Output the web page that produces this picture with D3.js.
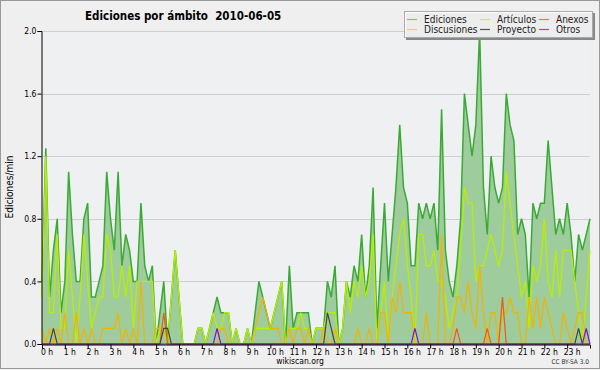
<!DOCTYPE html>
<html>
<head>
<meta charset="utf-8">
<script src="https://cdn.jsdelivr.net/npm/d3@7"></script>
<style>
  body { margin: 0; background: #efefef; }
  svg { display: block; }
</style>
</head>
<body>
<script>
// one value every 10 minutes, 00:00 .. 24:00 (145 slots)
const ediciones = [
  0.4, 1.25, 0.3, 0.6, 0.8, 0.2,
  0.4, 1.1, 0.7, 0.4, 0.4, 0.8,
  0.9, 0.3, 0.3, 0.4, 0.5, 1.1,
  0.8, 0.6, 1.1, 0.5, 0.7, 0.6,
  0.4, 0.4, 0.9, 0.5, 0.4, 0.5,
  0.0, 0.2, 0.4, 0.0, 0.3, 0.6,
  0.3, 0.0, 0.0, 0.0, 0.0, 0.1,
  0.1, 0.0, 0.1, 0.2, 0.3, 0.2,
  0.2, 0.2, 0.0, 0.1, 0.0, 0.0,
  0.1, 0.0, 0.2, 0.4, 0.3, 0.2,
  0.1, 0.2, 0.3, 0.4, 0.0, 0.5,
  0.1, 0.2, 0.2, 0.2, 0.2, 0.0,
  0.1, 0.1, 0.1, 0.4, 0.3, 0.5,
  0.0, 0.1, 0.4, 0.3, 0.5, 0.4,
  0.7, 0.3, 0.5, 1.0, 0.1, 0.5,
  0.9, 0.4, 0.7, 1.0, 1.4, 1.0,
  0.9, 0.5, 0.5, 0.9, 0.8, 0.9,
  0.8, 0.9, 0.6, 1.5, 0.6, 0.4,
  0.3, 0.5, 0.8, 1.6, 1.4, 1.2,
  1.4, 2.0, 1.0, 0.7, 1.2, 1.0,
  0.9, 1.0, 1.6, 1.4, 1.3, 0.7,
  0.8, 0.7, 0.3, 0.9, 0.8, 0.9,
  0.9, 1.3, 1.0, 0.7, 0.8, 0.7,
  0.9, 0.7, 0.4, 0.7, 0.6, 0.7,
  0.8
]
const articulos = [
  0.3, 1.2, 0.2, 0.2, 0.7, 0.1,
  0.1, 0.6, 0.3, 0.0, 0.3, 0.7,
  0.4, 0.1, 0.2, 0.3, 0.3, 0.7,
  0.6, 0.3, 0.3, 0.5, 0.3, 0.5,
  0.1, 0.4, 0.4, 0.4, 0.4, 0.4,
  0.0, 0.1, 0.1, 0.0, 0.3, 0.6,
  0.3, 0.0, 0.0, 0.0, 0.0, 0.1,
  0.1, 0.0, 0.1, 0.2, 0.1, 0.1,
  0.2, 0.2, 0.0, 0.1, 0.0, 0.0,
  0.1, 0.0, 0.1, 0.1, 0.1, 0.1,
  0.1, 0.2, 0.3, 0.4, 0.0, 0.1,
  0.1, 0.1, 0.2, 0.1, 0.1, 0.0,
  0.1, 0.1, 0.1, 0.2, 0.2, 0.2,
  0.0, 0.1, 0.4, 0.2, 0.4, 0.3,
  0.5, 0.3, 0.4, 0.7, 0.0, 0.2,
  0.4, 0.0, 0.3, 0.5, 0.7, 0.8,
  0.5, 0.3, 0.0, 0.7, 0.7, 0.5,
  0.5, 0.6, 0.4, 0.4, 0.3, 0.1,
  0.2, 0.3, 0.6, 1.0, 0.9, 0.9,
  0.4, 0.5, 0.5, 0.6, 0.7, 0.6,
  0.5, 0.6, 1.1, 0.9, 0.7, 0.5,
  0.3, 0.4, 0.1, 0.5, 0.4, 0.5,
  0.8, 0.4, 0.3, 0.6, 0.3, 0.6,
  0.6, 0.6, 0.4, 0.2, 0.0, 0.3,
  0.6
]
const discusiones = [
  0.1, 0.0, 0.1, 0.0, 0.1, 0.0,
  0.2, 0.0, 0.0, 0.2, 0.0, 0.1,
  0.0, 0.1, 0.0, 0.0, 0.1, 0.1,
  0.1, 0.1, 0.2, 0.0, 0.1, 0.0,
  0.1, 0.0, 0.4, 0.0, 0.0, 0.0,
  0.1, 0.1, 0.1, 0.0, 0.0, 0.0,
  0.0, 0.0, 0.0, 0.0, 0.0, 0.0,
  0.0, 0.0, 0.0, 0.0, 0.0, 0.1,
  0.1, 0.0, 0.0, 0.0, 0.0, 0.0,
  0.0, 0.0, 0.1, 0.2, 0.3, 0.2,
  0.1, 0.1, 0.1, 0.0, 0.0, 0.1,
  0.0, 0.1, 0.1, 0.0, 0.1, 0.0,
  0.0, 0.0, 0.1, 0.0, 0.0, 0.1,
  0.0, 0.0, 0.0, 0.0, 0.0, 0.1,
  0.0, 0.0, 0.1, 0.0, 0.0, 0.2,
  0.2, 0.0, 0.3, 0.2, 0.4, 0.2,
  0.2, 0.2, 0.0, 0.0, 0.0, 0.2,
  0.0, 0.0, 0.0, 0.7, 0.0, 0.0,
  0.1, 0.3, 0.3, 0.2, 0.4, 0.2,
  0.1, 0.5, 0.2, 0.0, 0.2, 0.2,
  0.0, 0.2, 0.2, 0.3, 0.2, 0.2,
  0.0, 0.0, 0.3, 0.1, 0.3, 0.1,
  0.3, 0.2, 0.1, 0.0, 0.0, 0.2,
  0.1, 0.0, 0.1, 0.2, 0.2, 0.0,
  0.0
]
// sparse series: only the non-zero slots
const anexos = [{slot: 32, v: 0.2}, {slot: 109, v: 0.1}, {slot: 117, v: 0.1}, {slot: 121, v: 0.3}]
const proyecto = [{slot: 3, v: 0.1}, {slot: 32, v: 0.1}, {slot: 33, v: 0.1}, {slot: 75, v: 0.2}, {slot: 76, v: 0.1}, {slot: 141, v: 0.1}]
const otros = [{slot: 46, v: 0.1}, {slot: 98, v: 0.1}, {slot: 143, v: 0.1}]

const yTicks = [0, 0.4, 0.8, 1.2, 1.6, 2.0]
const hourLabels = d3.range(0, 24).map(h => h + ' h')

const legendItems = [
  {name: 'Ediciones', color: '#77cc77'},
  {name: 'Artículos', color: '#ccee44'},
  {name: 'Anexos', color: '#ee7744'},
  {name: 'Discusiones', color: '#f5d04a'},
  {name: 'Proyecto', color: '#555555'},
  {name: 'Otros', color: '#9944ee'}
]

const W = 600, H = 370
const plot = {left: 42, right: 590, top: 31, bottom: 344}

const svg = d3.select('body').append('svg')
  .attr('width', W)
  .attr('height', H)
  .style('font-family', '"DejaVu Sans Condensed", "DejaVu Sans", sans-serif')

svg.append('rect')
  .attr('x', 0.5).attr('y', 0.5)
  .attr('width', W - 1).attr('height', H - 2)
  .attr('fill', '#efefef')
  .attr('stroke', '#9a9a9a')

svg.append('rect')
  .attr('x', plot.left).attr('y', plot.top)
  .attr('width', plot.right - plot.left).attr('height', plot.bottom - plot.top)
  .attr('fill', '#eef0f2')

const scaleX = d3.scaleLinear().domain([0, 1440]).range([plot.left, plot.right])
const scaleY = d3.scaleLinear().domain([0, 2]).range([plot.bottom, plot.top])

// grid
svg.append('g')
  .selectAll('line')
  .data(yTicks.filter(d => d > 0))
  .enter()
  .append('line')
  .attr('x1', plot.left).attr('x2', plot.right)
  .attr('y1', d => Math.round(scaleY(d)) + 0.5)
  .attr('y2', d => Math.round(scaleY(d)) + 0.5)
  .attr('stroke', '#cfcfcf')

const toPoints = arr => arr.map((v, i) => ({t: i * 10, v: v}))
const sparse = arr => ediciones.map((_, i) => {
  const hit = arr.find(d => d.slot === i)
  return {t: i * 10, v: hit ? hit.v : 0}
})

const line = d3.line().x(d => scaleX(d.t)).y(d => scaleY(d.v))
const area = d3.area().x(d => scaleX(d.t)).y0(scaleY(0)).y1(d => scaleY(d.v))

const visG = svg.append('g')

visG.append('path')
  .datum(toPoints(ediciones))
  .attr('d', area)
  .attr('fill', '#9fcc9c')

const series = [
  {data: toPoints(ediciones), color: '#3aaa35', w: 1.5},
  {data: toPoints(articulos), color: '#b8ee00', w: 1.3},
  {data: toPoints(discusiones), color: '#f0b400', w: 1.2},
  {data: sparse(anexos), color: '#ee5a10', w: 1.2},
  {data: sparse(proyecto), color: '#444444', w: 1.2},
  {data: sparse(otros), color: '#7a10e8', w: 1.2}
]

visG.selectAll('path.serie')
  .data(series)
  .enter()
  .append('path')
  .attr('class', 'serie')
  .attr('d', d => line(d.data))
  .attr('fill', 'none')
  .attr('stroke', d => d.color)
  .attr('stroke-width', d => d.w)
  .attr('stroke-linejoin', 'miter')

// axes
const axisY = d3.axisLeft(scaleY).tickValues(yTicks).tickFormat(d3.format('.1f')).tickSize(4).tickPadding(1)
const axisYMinor = d3.axisLeft(scaleY).tickValues(d3.range(0, 2.01, 0.1)).tickFormat('').tickSize(2)
const gy = svg.append('g').attr('transform', `translate(${plot.left - 0.5},0)`)
gy.call(axisYMinor)
gy.call(axisY)
gy.selectAll('text').attr('font-size', 8.5).attr('fill', '#000').attr('font-family', '"DejaVu Sans Condensed", sans-serif')
gy.selectAll('path.domain').attr('stroke', '#000')

const axisXMinor = d3.axisBottom(scaleX).tickValues(d3.range(0, 1441, 10)).tickFormat('').tickSize(3)
const axisX = d3.axisBottom(scaleX).tickValues(d3.range(0, 1440, 60)).tickFormat((d, i) => hourLabels[i]).tickSize(4).tickPadding(0)
const gx = svg.append('g').attr('transform', `translate(0,${plot.bottom + 0.5})`)
gx.call(axisXMinor)
gx.call(axisX)
gx.selectAll('text')
  .attr('font-size', 8.5)
  .attr('fill', '#000')
  .attr('dx', 4.5)
  .attr('font-family', '"DejaVu Sans Condensed", sans-serif')
gx.selectAll('path.domain').attr('stroke', '#000')

// title and labels
svg.append('text')
  .attr('x', 85).attr('y', 20)
  .attr('font-size', 11.5)
  .attr('font-weight', 'bold')
  .style('white-space', 'pre')
  .text('Ediciones por ámbito  2010-06-05')

svg.append('text')
  .attr('transform', 'translate(13,187) rotate(-90)')
  .attr('text-anchor', 'middle')
  .attr('font-size', 10)
  .text('Ediciones/min')

svg.append('text')
  .attr('x', 300).attr('y', 364)
  .attr('text-anchor', 'middle')
  .attr('font-size', 8.5)
  .text('wikiscan.org')

svg.append('text')
  .attr('x', 589).attr('y', 364)
  .attr('text-anchor', 'end')
  .attr('font-size', 6.5)
  .attr('fill', '#333')
  .text('CC BY-SA 3.0')

// legend
const lg = svg.append('g').attr('transform', 'translate(404,11)')
lg.append('rect').attr('x', 2).attr('y', 2).attr('width', 189).attr('height', 27).attr('fill', '#888')
lg.append('rect').attr('x', 0.5).attr('y', 0.5).attr('width', 188).attr('height', 26)
  .attr('fill', '#ffffff').attr('fill-opacity', 0.85).attr('stroke', '#aaa')
const colX = [3, 76, 135]
const item = lg.selectAll('g.item')
  .data(legendItems)
  .enter()
  .append('g')
  .attr('class', 'item')
  .attr('transform', (d, i) => `translate(${colX[i % 3]},${i < 3 ? 8 : 18})`)
item.append('line')
  .attr('x1', 0).attr('x2', 10).attr('y1', 0.5).attr('y2', 0.5)
  .attr('stroke', d => d.color).attr('stroke-width', 1.2)
item.append('text').attr('x', 17).attr('y', 4).attr('font-size', 10).attr('fill', '#222').text(d => d.name)
</script>
</body>
</html>
